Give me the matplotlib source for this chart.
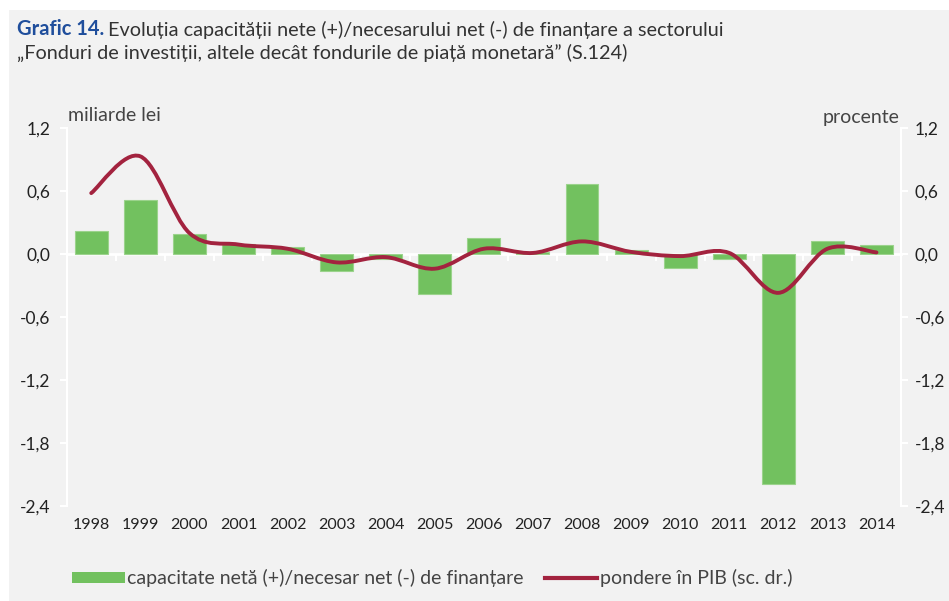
import numpy as np
import matplotlib
matplotlib.use("Agg")
import matplotlib.pyplot as plt
from matplotlib.path import Path
from matplotlib.patches import PathPatch, Patch
from matplotlib.lines import Line2D
from matplotlib.transforms import blended_transform_factory

# ---- data ----
years = ["1998", "1999", "2000", "2001", "2002", "2003", "2004", "2005", "2006",
         "2007", "2008", "2009", "2010", "2011", "2012", "2013", "2014"]
capacitate = [0.22, 0.51, 0.19, 0.10, 0.07, -0.16, -0.05, -0.38, 0.15,
              0.02, 0.67, 0.04, -0.13, -0.05, -2.19, 0.12, 0.09]
pondere_pib = [0.58, 0.93, 0.20, 0.09, 0.05, -0.08, -0.03, -0.14, 0.05,
               0.01, 0.12, 0.02, -0.02, 0.01, -0.37, 0.05, 0.015]
yticks = [1.2, 0.6, 0.0, -0.6, -1.2, -1.8, -2.4]

BG = "#f2f2f2"
GREEN = "#72c15f"
RED = "#a3233f"
TXT = "#222222"
plt.rcParams["font.family"] = ["Lato", "DejaVu Sans"]


def fmt(v):
    return f"{v:.1f}".replace(".", ",")


def smooth_path(xs, ys):
    # Excel style smoothed line: Catmull-Rom segments as cubic Beziers
    pts = np.column_stack([xs, ys]).astype(float)
    n = len(pts)
    verts, codes = [pts[0]], [Path.MOVETO]
    for i in range(n - 1):
        p0 = pts[i - 1] if i > 0 else pts[i]
        p1, p2 = pts[i], pts[i + 1]
        p3 = pts[i + 2] if i + 2 < n else pts[i + 1]
        verts += [p1 + (p2 - p0) / 6.0, p2 - (p3 - p1) / 6.0, p2]
        codes += [Path.CURVE4] * 3
    return Path(verts, codes)


fig = plt.figure(figsize=(9.49, 6.01), dpi=100, facecolor="white")
# grey panel
fig.patches.append(plt.Rectangle((9 / 949, 0), 1, 1 - 10 / 601,
                                 transform=fig.transFigure, facecolor=BG,
                                 edgecolor="none", zorder=-10))

ax = fig.add_axes([66.7 / 949, 1 - 506 / 601, (901 - 66.7) / 949, (506 - 128) / 601])
ax.patch.set_alpha(0)
x = np.arange(len(years))

ax.bar(x, capacitate, width=0.67, color=GREEN, edgecolor="#9bd38c",
       linewidth=0.8, zorder=2)
ax.set_xlim(-0.5, len(years) - 0.5)
ax.set_ylim(-2.4, 1.2)
ax.set_yticks(yticks)
ax.set_yticklabels([fmt(v) for v in yticks], fontsize=12.5, color=TXT)

ax.spines["top"].set_visible(False)
ax.spines["right"].set_visible(False)
ax.spines["left"].set_color("white")
ax.spines["left"].set_linewidth(1.5)
ax.spines["bottom"].set_position(("data", 0))
ax.spines["bottom"].set_color("white")
ax.spines["bottom"].set_linewidth(2)
ax.spines["bottom"].set_zorder(1)
ax.tick_params(axis="y", colors="white", labelcolor=TXT, length=5, width=1.5,
               direction="out", pad=7)
ax.set_xticks(x[:-1] + 0.5)
ax.set_xticklabels([])
ax.tick_params(axis="x", colors="white", length=5, width=1.5, direction="out")

trans = blended_transform_factory(ax.transData, ax.transAxes)
for xi, lab in zip(x, years):
    ax.text(xi, -0.05, lab, transform=trans, ha="center", va="center",
            fontsize=11.5, color=TXT)

ax2 = ax.twinx()
ax2.set_ylim(-2.4, 1.2)
ax2.set_yticks(yticks)
ax2.set_yticklabels([fmt(v) for v in yticks], fontsize=12.5, color=TXT)
for s in ["top", "left", "bottom"]:
    ax2.spines[s].set_visible(False)
ax2.spines["right"].set_color("white")
ax2.spines["right"].set_linewidth(1.5)
ax2.tick_params(axis="y", colors="white", labelcolor=TXT, length=5, width=1.5,
                direction="out", pad=5)
ax2.add_patch(PathPatch(smooth_path(x, pondere_pib), facecolor="none",
                        edgecolor=RED, linewidth=2.8, capstyle="round",
                        zorder=3))

# axis unit labels
fig.text(68 / 949, 1 - 115 / 601, "miliarde lei", fontsize=14, color="#444444",
         ha="left", va="center")
fig.text(900 / 949, 1 - 117 / 601, "procente", fontsize=14, color="#444444",
         ha="right", va="center")

# title
t1 = fig.text(17 / 949, 1 - 35 / 601, "Grafic 14.", fontsize=14.5, fontweight="bold",
              color="#1f4e9c", ha="left", va="baseline")
ax.annotate("Evoluția capacității nete (+)/necesarului net (-) de finanțare a sectorului",
            xy=(1, 0), xycoords=t1, xytext=(3, 0), textcoords="offset points",
            fontsize=14.3, color="#333333", ha="left", va="bottom",
            annotation_clip=False)
fig.text(17 / 949, 1 - 59 / 601,
         "„Fonduri de investiții, altele decât fondurile de piață monetară” (S.124)",
         fontsize=14.3, color="#333333", ha="left", va="baseline")

handles = [Patch(facecolor=GREEN, edgecolor="none"),
           Line2D([0], [0], color=RED, linewidth=3)]
labels = ["capacitate netă (+)/necesar net (-) de finanțare",
          "pondere în PIB (sc. dr.)"]
fig.legend(handles, labels, loc="center left",
           bbox_to_anchor=(72 / 949, 1 - 578 / 601), ncol=2, frameon=False,
           fontsize=14, handlelength=2.7, handleheight=0.5, handletextpad=0.12,
           columnspacing=1.1, borderpad=0, borderaxespad=0, labelcolor="#444444")

fig.savefig("out.png", dpi=100, facecolor=fig.get_facecolor())
